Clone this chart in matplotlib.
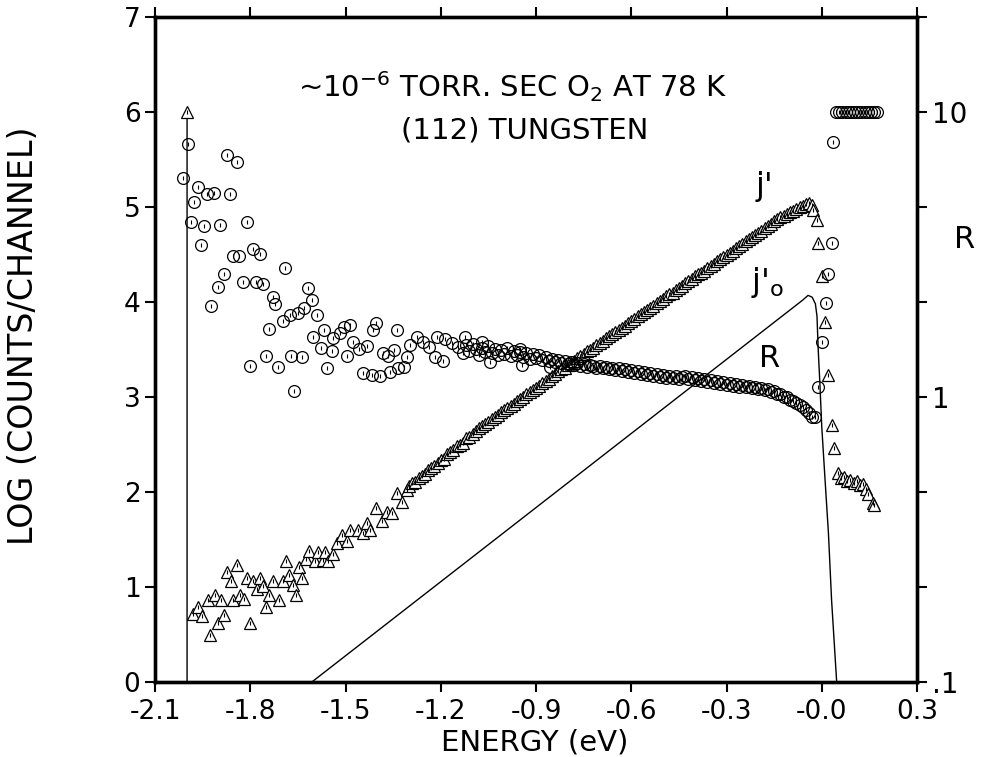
import numpy as np
import matplotlib
matplotlib.use("Agg")
import matplotlib.pyplot as plt
from matplotlib.ticker import FixedLocator, NullLocator

# ---------------------------------------------------------------- data
# j' (log counts/channel), low-energy noisy part
jp_low_e = [-1.999, -1.979, -1.964, -1.953, -1.932, -1.927, -1.911, -1.902, -1.892, -1.883,
            -1.874, -1.861, -1.853, -1.843, -1.832, -1.819, -1.811, -1.801, -1.790, -1.780,
            -1.769, -1.759, -1.750, -1.740, -1.727, -1.708, -1.696, -1.688, -1.677, -1.666,
            -1.657, -1.646, -1.638, -1.625, -1.615, -1.596, -1.586, -1.570, -1.565, -1.554,
            -1.540, -1.528, -1.512, -1.496, -1.486, -1.460, -1.444, -1.433, -1.423, -1.404,
            -1.386, -1.370, -1.354, -1.339, -1.323, -1.307]
jp_low_v = [6.00, 0.72, 0.79, 0.70, 0.86, 0.49, 0.92, 0.62, 0.86, 0.71,
            1.16, 1.06, 0.86, 1.23, 0.92, 0.87, 1.09, 0.62, 1.06, 0.98,
            1.09, 1.01, 0.79, 0.92, 1.06, 0.86, 1.06, 1.27, 1.13, 1.02,
            0.92, 1.21, 1.09, 1.29, 1.38, 1.27, 1.37, 1.28, 1.37, 1.27,
            1.35, 1.46, 1.55, 1.48, 1.60, 1.60, 1.57, 1.67, 1.60, 1.83,
            1.69, 1.79, 1.78, 1.99, 1.90, 2.02]

# j' main band, one channel every 0.01 eV from -1.30 to -0.04 eV
jp_band_e = np.round(np.arange(-1.30, -0.035, 0.01), 3)
jp_band_v = [2.06, 2.09, 2.11, 2.15, 2.17, 2.19, 2.23, 2.25, 2.27, 2.31,
             2.34, 2.35, 2.40, 2.42, 2.44, 2.48, 2.50, 2.52, 2.57, 2.58,
             2.61, 2.64, 2.67, 2.69, 2.72, 2.74, 2.77, 2.79, 2.81, 2.84,
             2.86, 2.88, 2.91, 2.93, 2.96, 2.98, 3.00, 3.03, 3.05, 3.07,
             3.10, 3.12, 3.15, 3.17, 3.19, 3.22, 3.24, 3.27, 3.29, 3.31,
             3.34, 3.36, 3.38, 3.41, 3.43, 3.45, 3.48, 3.50, 3.52, 3.55,
             3.57, 3.59, 3.62, 3.64, 3.66, 3.68, 3.71, 3.73, 3.75, 3.78,
             3.80, 3.82, 3.85, 3.87, 3.89, 3.92, 3.94, 3.96, 3.99, 4.01,
             4.03, 4.06, 4.08, 4.10, 4.13, 4.15, 4.17, 4.20, 4.22, 4.24,
             4.27, 4.29, 4.31, 4.33, 4.36, 4.38, 4.40, 4.43, 4.45, 4.47,
             4.50, 4.52, 4.54, 4.57, 4.59, 4.61, 4.64, 4.66, 4.68, 4.71,
             4.73, 4.75, 4.78, 4.80, 4.82, 4.85, 4.87, 4.89, 4.91, 4.93,
             4.95, 4.96, 4.98, 5.00, 5.01, 5.03, 5.04]

# j' above the Fermi edge
jp_high_e = [-0.030, -0.027, -0.015, -0.012, 0.000, 0.010, 0.020, 0.032, 0.040, 0.050,
             0.060, 0.070, 0.080, 0.090, 0.100, 0.110, 0.120, 0.130, 0.140, 0.145,
             0.160, 0.165]
jp_high_v = [5.02, 4.97, 4.86, 4.62, 4.27, 3.79, 3.23, 2.71, 2.46, 2.20,
             2.15, 2.16, 2.12, 2.13, 2.10, 2.12, 2.07, 2.08, 2.03, 1.98,
             1.88, 1.86]

# j'_o reference curve (log counts/channel)
j0_e = [-1.999, -1.999, -1.606, -0.060, -0.043, -0.030, -0.020, -0.015, -0.011, -0.006,
        0.000, 0.010, 0.021, 0.031, 0.047]
j0_v = [6.00, 0.00, 0.00, 4.02, 4.07, 4.05, 3.98, 3.85, 3.49, 3.15,
        2.69, 2.15, 1.57, 0.86, 0.00]

# R = j'/j'_o, scattered low-energy part
r_low_e = [-2.011, -1.995, -1.988, -1.976, -1.966, -1.955, -1.946, -1.937, -1.925, -1.913,
           -1.901, -1.895, -1.883, -1.874, -1.864, -1.853, -1.841, -1.834, -1.822, -1.811,
           -1.801, -1.792, -1.782, -1.769, -1.759, -1.750, -1.740, -1.729, -1.722, -1.712,
           -1.698, -1.691, -1.675, -1.672, -1.662, -1.649, -1.638, -1.630, -1.617, -1.606,
           -1.601, -1.591, -1.578, -1.568, -1.559, -1.544, -1.538, -1.517, -1.505, -1.496,
           -1.486, -1.475, -1.456, -1.444, -1.433, -1.417, -1.414, -1.404, -1.391, -1.381,
           -1.365, -1.360, -1.346, -1.339, -1.334, -1.316, -1.307, -1.297, -1.276, -1.255,
           -1.236, -1.218, -1.213, -1.192, -1.187, -1.166, -1.145, -1.129, -1.124, -1.071,
           -1.045, -0.950, -0.945, -0.856]
r_low_v = [5.845, 7.700, 4.107, 4.825, 5.454, 3.415, 3.981, 5.168, 2.089, 5.208,
           2.436, 4.012, 2.692, 7.079, 5.168, 3.114, 6.658, 3.114, 2.531, 4.107,
           1.288, 3.311, 2.531, 3.186, 2.493, 1.391, 1.738, 2.239, 2.122, 1.278,
           1.848, 2.840, 1.935, 1.391, 1.047, 1.965, 1.380, 2.058, 2.417, 2.188,
           1.622, 1.935, 1.491, 1.725, 1.259, 1.445, 1.610, 1.672, 1.765, 1.391,
           1.792, 1.561, 1.479, 1.212, 1.514, 1.193, 1.725, 1.820, 1.184, 1.423,
           1.391, 1.221, 1.457, 1.725, 1.259, 1.278, 1.380, 1.525, 1.622, 1.561,
           1.502, 1.380, 1.622, 1.339, 1.597, 1.549, 1.502, 1.423, 1.622, 1.561,
           1.328, 1.479, 1.298, 1.278]

# R main band, one channel every 0.01 eV from -1.12 to -0.03 eV
r_band_e = np.round(np.arange(-1.12, -0.025, 0.01), 3)
r_band_v = [1.525, 1.445, 1.537, 1.468, 1.402, 1.491, 1.434, 1.514, 1.423, 1.468,
            1.402, 1.456, 1.413, 1.491, 1.391, 1.445, 1.402, 1.434, 1.380, 1.423,
            1.359, 1.413, 1.370, 1.402, 1.349, 1.380, 1.339, 1.359, 1.328, 1.349,
            1.318, 1.339, 1.308, 1.328, 1.298, 1.318, 1.288, 1.308, 1.278, 1.298,
            1.288, 1.269, 1.288, 1.259, 1.278, 1.250, 1.269, 1.240, 1.259, 1.231,
            1.250, 1.221, 1.240, 1.212, 1.231, 1.202, 1.221, 1.193, 1.212, 1.184,
            1.202, 1.175, 1.193, 1.166, 1.184, 1.166, 1.184, 1.157, 1.175, 1.184,
            1.157, 1.175, 1.148, 1.166, 1.139, 1.157, 1.130, 1.148, 1.122, 1.139,
            1.113, 1.130, 1.105, 1.122, 1.096, 1.113, 1.088, 1.105, 1.080, 1.096,
            1.072, 1.088, 1.063, 1.072, 1.055, 1.063, 1.039, 1.047, 1.023, 1.023,
            1.000, 1.000, 0.977, 0.970, 0.955, 0.940, 0.919, 0.898, 0.878, 0.851]

# R above the Fermi edge
r_high_e = [-0.021, -0.012, 0.000, 0.013, 0.020, 0.032, 0.035, 0.045, 0.055, 0.065,
            0.075, 0.085, 0.095, 0.105, 0.115, 0.125, 0.135, 0.145, 0.155, 0.165,
            0.175]
r_high_v = [0.851, 1.088, 1.561, 2.138, 2.692, 3.467, 7.825, 10.0, 10.0, 10.0,
            10.0, 10.0, 10.0, 10.0, 10.0, 10.0, 10.0, 10.0, 10.0, 10.0,
            10.0]

x_ticks = [-2.1, -1.8, -1.5, -1.2, -0.9, -0.6, -0.3, 0.0, 0.3]
x_tick_labels = ["-2.1", "-1.8", "-1.5", "-1.2", "-0.9", "-0.6", "-0.3", "-0.0", "0.3"]
y_ticks = [0, 1, 2, 3, 4, 5, 6, 7]
r_tick_labels = {0.1: ".1", 1.0: "1", 10.0: "10"}

# ---------------------------------------------------------------- style
plt.rcParams["font.family"] = ["DejaVu Sans"]
plt.rcParams["mathtext.fontset"] = "dejavusans"

fig = plt.figure(figsize=(9.81, 7.57), dpi=100)
ax = fig.add_axes([155 / 981, 1 - 682 / 757, (917 - 155) / 981, (682 - 17) / 757])

all_jp_e = list(jp_low_e) + list(jp_band_e) + list(jp_high_e)
all_jp_v = list(jp_low_v) + list(jp_band_v) + list(jp_high_v)

ax.plot(j0_e, j0_v, color="black", lw=1.0, zorder=2)
ax.plot(all_jp_e, all_jp_v, linestyle="none", marker="^", markersize=8.5,
        markerfacecolor="white", markeredgecolor="black", markeredgewidth=0.9, zorder=3)
ax.plot(all_jp_e, all_jp_v, linestyle="none", marker="|", markersize=3,
        color="black", markeredgewidth=0.8, zorder=4)

ax.set_xlim(-2.1, 0.3)
ax.set_ylim(0, 7)
ax.set_xticks(x_ticks)
ax.set_xticklabels(x_tick_labels)
ax.set_yticks(y_ticks)
ax.tick_params(axis="both", which="major", direction="out", length=7, width=1.5,
               labelsize=19, top=True, labeltop=False)
ax.tick_params(axis="x", pad=5)
for sp in ax.spines.values():
    sp.set_linewidth(2.4)

ax2 = ax.twinx()
ax2.set_yscale("log")
ax2.set_ylim(0.1, 10 ** (4 / 3))
r_all_e = list(r_low_e) + list(r_band_e) + list(r_high_e)
r_all_v = list(r_low_v) + list(r_band_v) + list(r_high_v)
ax2.plot(r_all_e, r_all_v, linestyle="none", marker="o", markersize=8.5,
         markerfacecolor="none", markeredgecolor="black", markeredgewidth=0.9, zorder=3)
ax2.plot(r_all_e, r_all_v, linestyle="none", marker="|", markersize=3,
         color="black", markeredgewidth=0.8, zorder=4)
r_ticks = [10 ** (k / 3 - 1) for k in range(8)]
ax2.yaxis.set_major_locator(FixedLocator(r_ticks))
ax2.yaxis.set_minor_locator(NullLocator())
ax2.set_yticklabels([r_tick_labels.get(round(t, 3), "") for t in r_ticks])
ax2.tick_params(axis="y", direction="out", length=7, width=1.5, labelsize=20)
for sp in ax2.spines.values():
    sp.set_linewidth(2.4)

# annotations
ax.text(-0.972, 6.27, r"~10$^{-6}$ TORR. SEC O$_2$ AT 78 K", ha="center", va="center",
        fontsize=21)
ax.text(-0.935, 5.81, "(112) TUNGSTEN", ha="center", va="center", fontsize=21)
ax.text(-0.179, 5.22, "j'", ha="center", va="center", fontsize=23)
ax.text(-0.172, 4.21, r"j$'_{\mathrm{o}}$", ha="center", va="center", fontsize=23)
ax.text(-0.163, 3.41, "R", ha="center", va="center", fontsize=22)

fig.text(965 / 981, 1 - 240 / 757, "R", ha="center", va="center", fontsize=22)
fig.text(24 / 981, 1 - 336 / 757, "LOG (COUNTS/CHANNEL)", rotation=90,
         ha="center", va="center", fontsize=24)
fig.text(535 / 981, 1 - 742 / 757, "ENERGY (eV)", ha="center", va="center", fontsize=21)

fig.savefig("out.png", dpi=100)
